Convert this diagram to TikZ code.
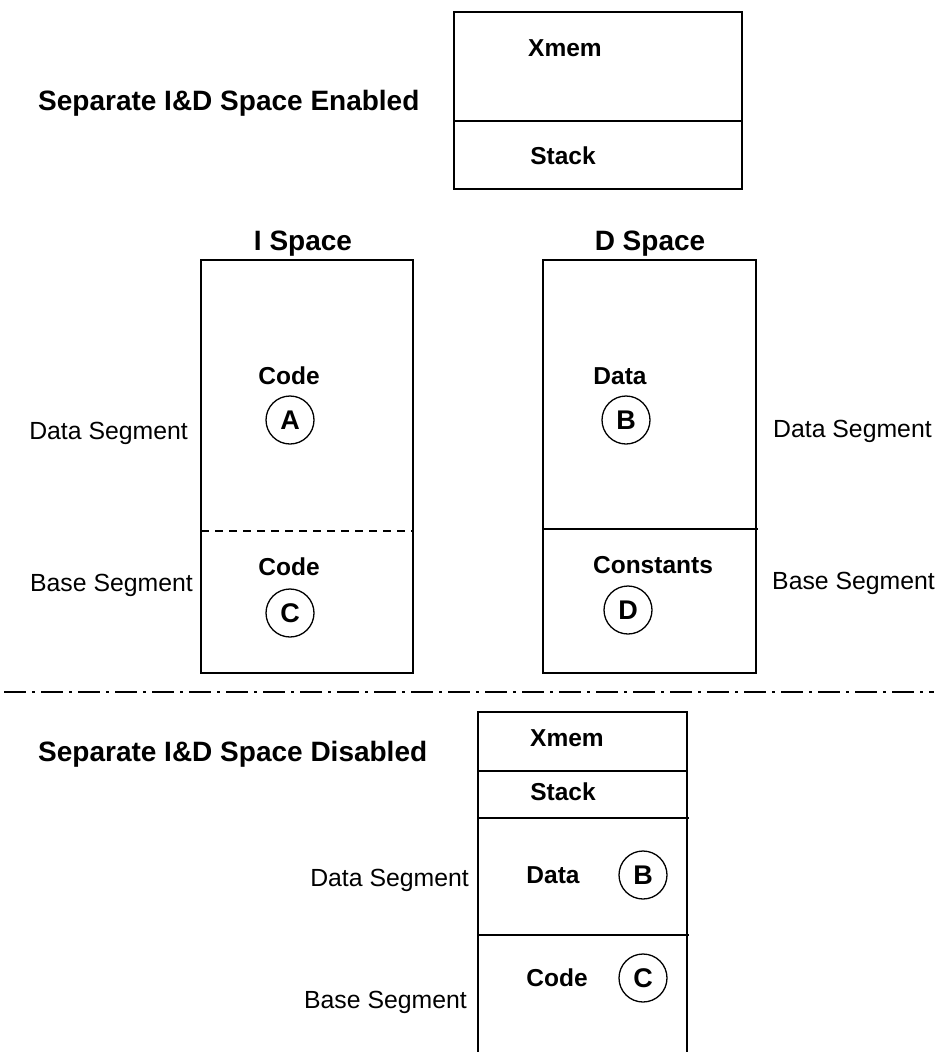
\documentclass[tikz,border=0pt]{standalone}
\usepackage{fontspec}
\setmainfont{Liberation Sans}
\begin{document}
\begin{tikzpicture}[x=1pt,y=-1pt,
  box/.style={draw,line width=1.5pt,inner sep=0pt},
  lbl/.style={inner sep=0pt,font=\fontsize{24.5}{28}\selectfont\bfseries},
  seg/.style={inner sep=0pt,font=\fontsize{24.8}{28}\selectfont},
  head/.style={inner sep=0pt,font=\fontsize{28}{32}\selectfont\bfseries},
  circ/.style={draw,circle,line width=1.3pt,minimum size=48pt,inner sep=0pt,font=\fontsize{27}{30}\selectfont\bfseries},
  divider/.style={line width=1.5pt}
]
\useasboundingbox (0,0) rectangle (938,1052);

% ---------- Enabled ----------
\node[head,anchor=west] (hEn) at (38,103) {Separate I\&D Space Enabled};
\node[box,minimum width=288pt,minimum height=177pt] (topbox) at (598,100.5) {};
\draw[divider] (454,121) -- (742,121);
\node[lbl] (xmem1) at (565,48) {Xmem};
\node[lbl] (stack1) at (563,156) {Stack};

\node[head] (ispace) at (303,244) {I Space};
\node[head] (dspace) at (650,244) {D Space};

\node[box,minimum width=212pt,minimum height=413pt] (ibox) at (307,466.5) {};
\draw[line width=1.3pt,dash pattern=on 8pt off 6pt] (201,531) -- (413,531);
\node[lbl] (icode1) at (289,376) {Code};
\node[circ] (cA) at (290,420) {A};
\node[lbl] (icode2) at (289,567) {Code};
\node[circ] (cC1) at (290,613) {C};

\node[box,minimum width=213pt,minimum height=413pt] (dbox) at (649.5,466.5) {};
\draw[divider] (543,529) -- (758,529);
\node[lbl] (ddata) at (620,376) {Data};
\node[circ] (cB1) at (626,420) {B};
\node[lbl] (dconst) at (653,565) {Constants};
\node[circ] (cD) at (628,610) {D};

\node[seg,anchor=east] (lds) at (188,433) {Data Segment};
\node[seg,anchor=east] (lbs) at (193,585) {Base Segment};
\node[seg,anchor=west] (rds) at (773,431) {Data Segment};
\node[seg,anchor=west] (rbs) at (772,583) {Base Segment};

% ---------- separator ----------
\draw[line width=2.5pt,dash pattern=on 22pt off 6pt on 3pt off 6pt] (4,692) -- (934,692);

% ---------- Disabled ----------
\node[head,anchor=west] (hDis) at (38,754) {Separate I\&D Space Disabled};
\draw[line width=1.5pt] (478,1053) -- (478,712) -- (687,712) -- (687,1053);
\draw[divider] (478,771) -- (687,771);
\draw[divider] (478,818) -- (689,818);
\draw[divider] (478,935) -- (689,935);
\node[lbl] (xmem2) at (567,738) {Xmem};
\node[lbl] (stack2) at (563,792) {Stack};
\node[lbl] (bdata) at (553,875) {Data};
\node[circ] (cB2) at (643,875) {B};
\node[lbl] (bcode) at (557,978) {Code};
\node[circ] (cC2) at (643,978) {C};
\node[seg,anchor=east] (bds) at (469,880) {Data Segment};
\node[seg,anchor=east] (bbs) at (467,1002) {Base Segment};
\end{tikzpicture}
\end{document}
